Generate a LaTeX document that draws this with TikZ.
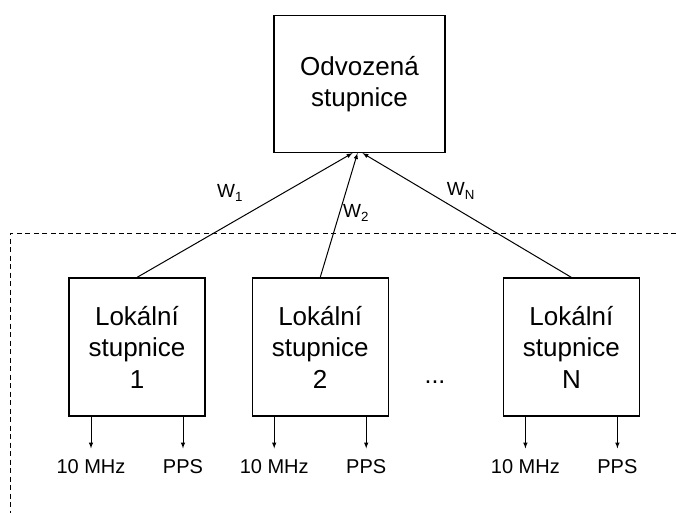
\documentclass[tikz,border=0pt]{standalone}
\usepackage{fontspec}
\setmainfont{Liberation Sans}
\usetikzlibrary{positioning}

\begin{document}
\begin{tikzpicture}[
            x=1pt, y=-1pt,
            node distance=46pt,
            block/.style={rectangle, draw, line width=1.2pt, minimum width=136pt, minimum height=138pt, align=center, font=\fontsize{26}{31.5}\selectfont},
            arrow/.style={-latex, line width=1pt},
            output/.style={font=\fontsize{20}{20}\selectfont, inner sep=11pt, anchor=base},
            weight/.style={font=\fontsize{19}{19}\selectfont, inner sep=0pt}
        ]
            \useasboundingbox (0,0) rectangle (676,513);

            \node[block, minimum width=171pt, minimum height=137pt] (odv) at (359.5,84) {Odvozená\\stupnice};
            \node[block] (L1) at (137,347) {Lokální\\stupnice\\1};
            \node[block, right=of L1] (L2) {Lokální\\stupnice\\2};
            \node[block, right=114pt of L2] (LN) {Lokální\\stupnice\\N};
            \node[font=\fontsize{25}{25}\selectfont, anchor=base] (dots) at (435,383) {...};

            % hranice lokalnich stupnic
            \draw[dashed, dash pattern=on 5pt off 3.5pt, line width=1pt] (676,233) -- (10,233) -- (10,513);

            \draw[arrow] (L1.north) -- ([xshift=-7pt]odv.south);
            \draw[arrow] (L2.north) -- ([xshift=-2pt]odv.south);
            \draw[arrow] (LN.north) -- ([xshift=3pt]odv.south);
            \node[weight] (w1) at (230,193) {W\textsubscript{1}};
            \node[weight] (w2) at (356,213) {W\textsubscript{2}};
            \node[weight] (wN) at (461,191) {W\textsubscript{N}};

            \foreach \b in {L1,L2,LN} {
                \path (\b.south) ++(-46,57) node[output] (\b-mhz) {10 MHz};
                \path (\b.south) ++(46,57) node[output] (\b-pps) {PPS};
                \draw[arrow] (\b.south -| \b-mhz) -- (\b-mhz.north);
                \draw[arrow] (\b.south -| \b-pps) -- (\b-pps.north);
            }
        \end{tikzpicture}
\end{document}
